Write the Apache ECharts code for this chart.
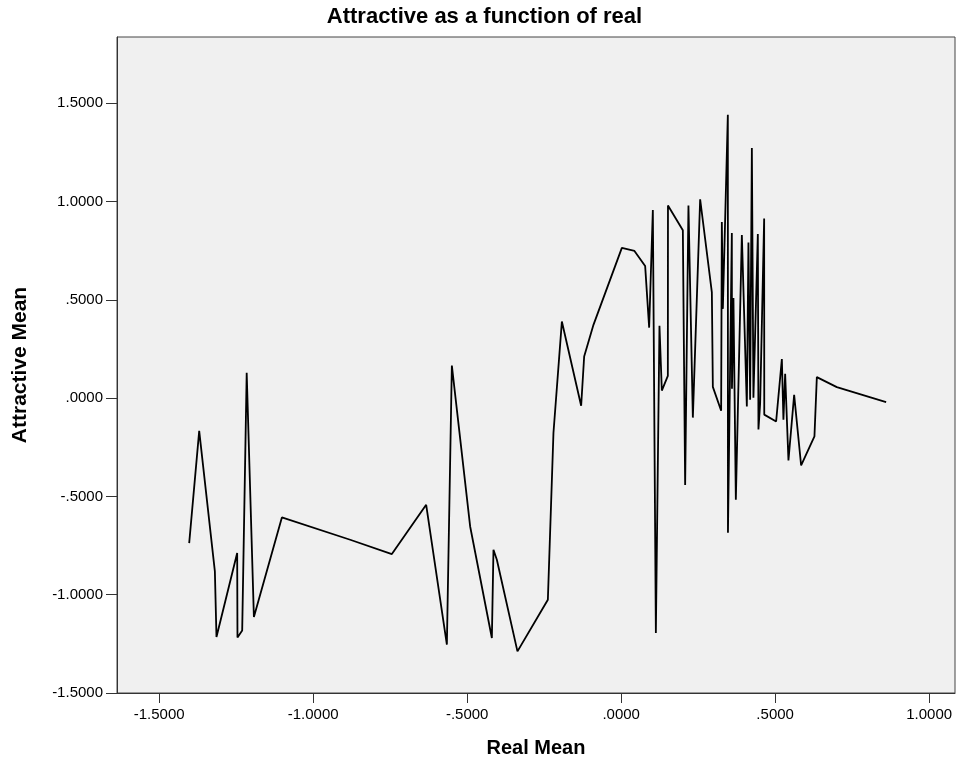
<!DOCTYPE html>
<html>
<head>
<meta charset="utf-8">
<script src="https://cdn.jsdelivr.net/npm/echarts@6/dist/echarts.min.js"></script>
<style>
html,body{margin:0;padding:0;background:#fff;}
#chart{width:969px;height:772px;}
</style>
</head>
<body>
<div id="chart"></div>
<script>
const realMean = [
  -1.4026, -1.3701, -1.3192, -1.3140, -1.2468, -1.2458, -1.2305, -1.2159, -1.1925, -1.1016,
  -0.8799, -0.7445, -0.6331, -0.5659, -0.5497, -0.4903, -0.4198, -0.4146, -0.4036, -0.3367,
  -0.2380, -0.2198, -0.1925, -0.1299, -0.1201, -0.0899, 0.0023, 0.0432, 0.0779, 0.0909,
  0.1029, 0.1127, 0.1244, 0.1321, 0.1516, 0.1520, 0.2003, 0.2078, 0.2185, 0.2328,
  0.2565, 0.2945, 0.2977, 0.3247, 0.3269, 0.3302, 0.3464, 0.3468, 0.3594, 0.3598,
  0.3646, 0.3724, 0.3919, 0.4081, 0.4133, 0.4188, 0.4244, 0.4295, 0.4438, 0.4458,
  0.4513, 0.4643, 0.4647, 0.5032, 0.5218, 0.5269, 0.5325, 0.5432, 0.5617, 0.5844,
  0.6276, 0.6354, 0.7003, 0.8604
];
const attractiveMean = [
  -0.7372, -0.1662, -0.8816, -1.2151, -0.7880, -1.2171, -1.1815, 0.1286, -1.1134, -0.6070,
  -0.7204, -0.7931, -0.5425, -1.2542, 0.1657, -0.6528, -1.2201, -0.7712, -0.8221, -1.2883,
  -1.0254, -0.1764, 0.3894, -0.0391, 0.2115, 0.3727, 0.7641, 0.7489, 0.6726, 0.3584,
  0.9573, -1.1947, 0.3676, 0.0386, 0.1134, 0.9797, 0.8536, -0.4418, 0.9797, -0.0991,
  1.0117, 0.5374, 0.0574, -0.0646, 0.8963, 0.4540, 1.4413, -0.6848, 0.8404, 0.0473,
  0.5099, -0.5170, 0.8302, -0.0427, 0.7916, -0.0086, 1.2725, 0.0015, 0.8353, -0.1591,
  -0.0275, 0.9141, -0.0839, -0.1190, 0.1983, -0.1103, 0.1235, -0.3172, 0.0168, -0.3427,
  -0.1952, 0.1068, 0.0559, -0.0203
];
const xTicks = [-1.5, -1.0, -0.5, 0.0, 0.5, 1.0];
const yTicks = [-1.5, -1.0, -0.5, 0.0, 0.5, 1.0, 1.5];

function fmt(v){
  let s = Number(v).toFixed(4);
  return s.replace(/^(-?)0\./, '$1.');
}

const chart = echarts.init(document.getElementById('chart'), null, {renderer:'canvas'});
const font = '"Liberation Sans", Arial, sans-serif';
chart.setOption({
  animation:false,
  backgroundColor:'#ffffff',
  title:{
    text:'Attractive as a function of real',
    left:'center', top:1,
    textStyle:{fontFamily:font, fontSize:22, fontWeight:'bold', color:'#000'}
  },
  grid:{
    left:117, right:14, top:37, bottom:79,
    show:true, backgroundColor:'#f0f0f0', borderColor:'#444', borderWidth:1
  },
  xAxis:{
    type:'value', min:-1.637, max:1.084,
    name:'Real Mean', nameLocation:'middle', nameGap:45,
    nameTextStyle:{fontFamily:font, fontSize:20, fontWeight:'bold', color:'#000'},
    axisLine:{show:true, onZero:false, lineStyle:{color:'#333', width:1}},
    axisTick:{show:true, length:10, customValues:xTicks, lineStyle:{color:'#333'}},
    axisLabel:{customValues:xTicks, formatter:fmt, fontFamily:font, fontSize:15, color:'#000', margin:14},
    splitLine:{show:false}
  },
  yAxis:{
    type:'value', min:-1.5, max:1.837,
    name:'Attractive Mean', nameLocation:'middle', nameGap:86,
    nameTextStyle:{fontFamily:font, fontSize:21, fontWeight:'bold', color:'#000'},
    axisLine:{show:true, onZero:false, lineStyle:{color:'#333', width:1}},
    axisTick:{show:true, length:11, customValues:yTicks, lineStyle:{color:'#333'}},
    axisLabel:{customValues:yTicks, formatter:fmt, fontFamily:font, fontSize:15, color:'#000', margin:14},
    splitLine:{show:false}
  },
  series:[{
    type:'line',
    data: realMean.map((x,i)=>[x, attractiveMean[i]]),
    showSymbol:false,
    symbol:'none',
    lineStyle:{color:'#000', width:1.8},
    clip:true
  }]
});
</script>
</body>
</html>
